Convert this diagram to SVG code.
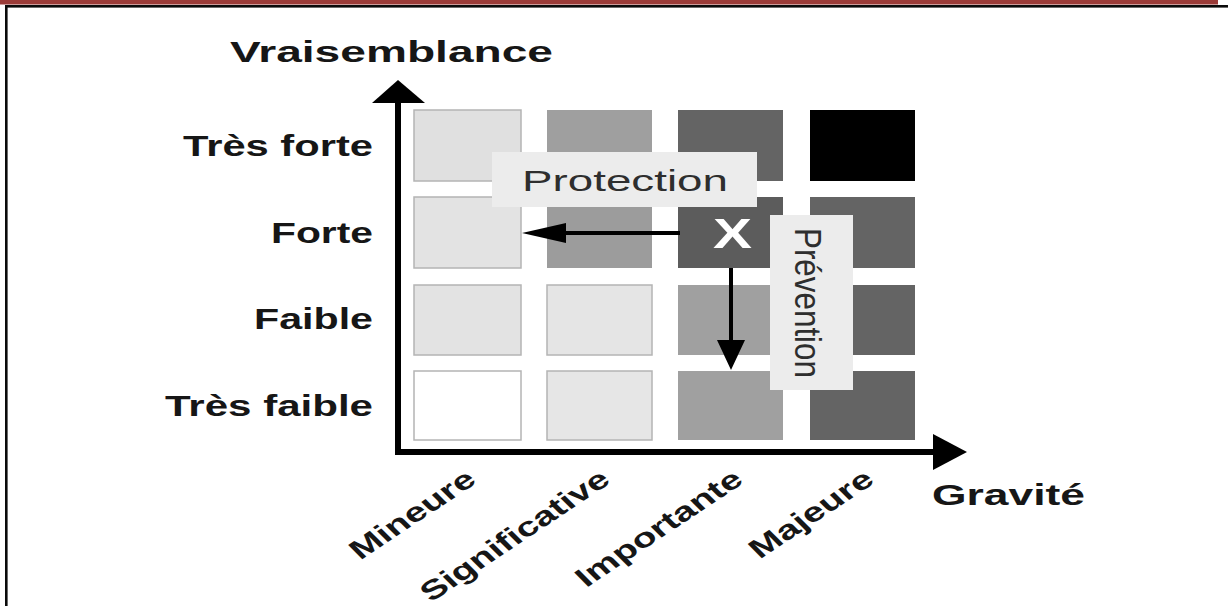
<svg xmlns="http://www.w3.org/2000/svg" width="1228" height="606" viewBox="0 0 1228 606">
  <style>
    .lbl { font-family: "Liberation Sans", Arial, sans-serif; font-weight: bold; font-size: 29px; fill: #161616; }
    .reg { font-family: "Liberation Sans", Arial, sans-serif; font-size: 29px; fill: #2e2e2e; }
    .lite { stroke: #b4b4b4; stroke-width: 1.5; }
    .axis { stroke: #000; stroke-width: 6; fill: none; }
    .move { stroke: #000; stroke-width: 4; fill: none; }
    .veil { fill: #ececec; }
  </style>

  <!-- page frame -->
  <rect x="0" y="0" width="1218" height="4.5" fill="#9b3b38"/>
  <rect x="5" y="5" width="1223" height="2.6" fill="#0a0a0a"/>
  <rect x="5" y="5" width="2.6" height="601" fill="#0a0a0a"/>

  <!-- risk matrix cells: rows top to bottom, columns left to right -->
  <g id="cells">
    <rect x="414" y="110" width="107" height="71" fill="#e0e0e0" class="lite"/>
    <rect x="547" y="110" width="105" height="71" fill="#9f9f9f"/>
    <rect x="678" y="110" width="105" height="71" fill="#646464"/>
    <rect x="810" y="110" width="105" height="71" fill="#000"/>

    <rect x="414" y="197" width="107" height="71" fill="#e3e3e3" class="lite"/>
    <rect x="547" y="197" width="105" height="71" fill="#9c9c9c"/>
    <rect id="current" x="678" y="197" width="105" height="71" fill="#5c5c5c"/>
    <rect x="810" y="197" width="105" height="71" fill="#646464"/>

    <rect x="414" y="285" width="107" height="70" fill="#e3e3e3" class="lite"/>
    <rect x="547" y="285" width="105" height="70" fill="#e5e5e5" class="lite"/>
    <rect x="678" y="285" width="105" height="70" fill="#a0a0a0"/>
    <rect x="810" y="285" width="105" height="70" fill="#646464"/>

    <rect x="414" y="371" width="107" height="69" fill="#fff" class="lite"/>
    <rect x="547" y="371" width="105" height="69" fill="#e6e6e6" class="lite"/>
    <rect x="678" y="371" width="105" height="69" fill="#a0a0a0"/>
    <rect x="810" y="371" width="105" height="69" fill="#646464"/>
  </g>

  <!-- label panels laid over the grid -->
  <g id="protection">
    <rect class="veil" x="492" y="152" width="265" height="55"/>
    <text class="reg" x="522" y="191" textLength="206" lengthAdjust="spacingAndGlyphs">Protection</text>
  </g>
  <g id="prevention">
    <rect class="veil" x="770" y="215" width="83" height="175"/>
    <text class="reg" transform="translate(795 228) scale(1.3 1) rotate(90)" textLength="150" lengthAdjust="spacingAndGlyphs">Prévention</text>
  </g>

  <g id="marker-x">
    <text x="713" y="248" textLength="39" lengthAdjust="spacingAndGlyphs" style="font-family:'Liberation Sans',Arial,sans-serif;font-weight:bold;font-size:42px;fill:#fff">X</text>
  </g>

  <!-- connectors: axes and mitigation moves -->
  <g id="connectors">
    <line class="axis" x1="398" y1="100" x2="398" y2="455"/>
    <polygon points="398,80 372,103 425,103" fill="#000"/>
    <line class="axis" x1="395" y1="452" x2="940" y2="452"/>
    <polygon points="967,452 933,434 933,470" fill="#000"/>

    <line class="move" x1="680" y1="233" x2="560" y2="233"/>
    <polygon points="522,233 566,223 566,243" fill="#000"/>
    <line class="move" x1="731" y1="268" x2="731" y2="345"/>
    <polygon points="731,370 717,340 745,340" fill="#000"/>
  </g>

  <!-- axis titles -->
  <g id="axis-titles">
    <text class="lbl" x="230" y="62" textLength="323" lengthAdjust="spacingAndGlyphs">Vraisemblance</text>
    <text class="lbl" x="932" y="505" textLength="153" lengthAdjust="spacingAndGlyphs">Gravité</text>
  </g>

  <!-- likelihood levels -->
  <g id="likelihood">
    <text class="lbl" x="183" y="156" textLength="190" lengthAdjust="spacingAndGlyphs">Très forte</text>
    <text class="lbl" x="271" y="243" textLength="102" lengthAdjust="spacingAndGlyphs">Forte</text>
    <text class="lbl" x="254" y="329" textLength="119" lengthAdjust="spacingAndGlyphs">Faible</text>
    <text class="lbl" x="165" y="416" textLength="208" lengthAdjust="spacingAndGlyphs">Très faible</text>
  </g>

  <!-- severity levels -->
  <g id="severity">
    <text class="lbl" text-anchor="end" transform="matrix(1.06 -0.707 0.707 0.707 478 482)" transform-origin="0 0">Mineure</text>
    <text class="lbl" text-anchor="end" transform="matrix(1.06 -0.707 0.707 0.707 612 482)">Significative</text>
    <text class="lbl" text-anchor="end" transform="matrix(1.06 -0.707 0.707 0.707 745 482)">Importante</text>
    <text class="lbl" text-anchor="end" transform="matrix(1.06 -0.707 0.707 0.707 876 482)">Majeure</text>
  </g>
</svg>
